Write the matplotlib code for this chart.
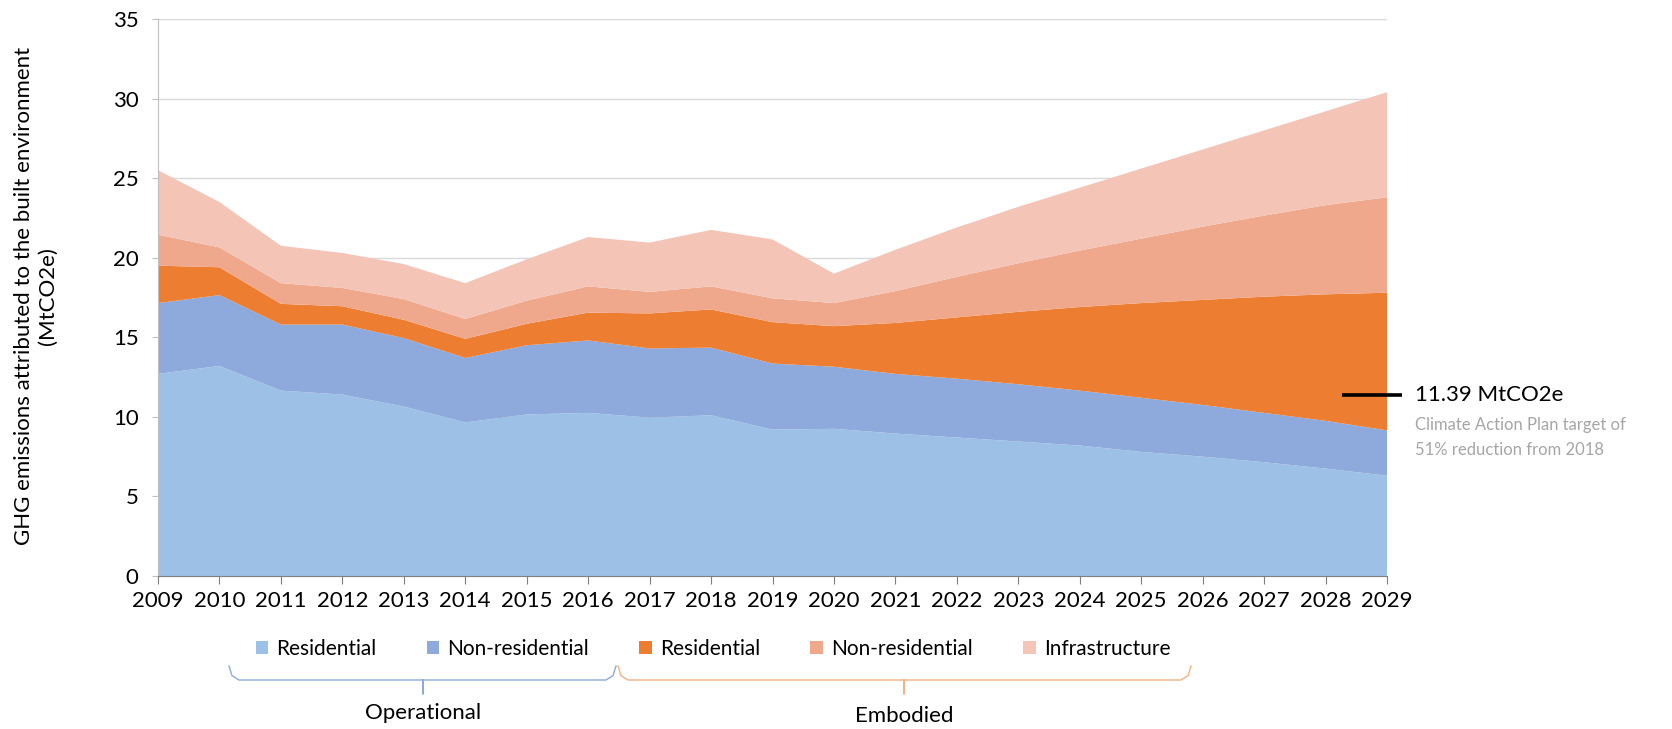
import matplotlib
matplotlib.use("Agg")
import matplotlib.pyplot as plt
from matplotlib.lines import Line2D

plt.rcParams['font.family'] = ['Lato', 'DejaVu Sans']

# 数据
years = list(range(2009, 2030))
op_res = [12.7, 13.2, 11.65, 11.4, 10.65, 9.65, 10.15, 10.25, 9.95, 10.1, 9.2,
          9.25, 8.95, 8.7, 8.45, 8.2, 7.8, 7.5, 7.15, 6.75, 6.3]
op_nonres = [4.45, 4.45, 4.15, 4.4, 4.3, 4.05, 4.35, 4.55, 4.35, 4.25, 4.15,
             3.9, 3.75, 3.7, 3.6, 3.45, 3.4, 3.25, 3.1, 3.0, 2.85]
emb_res = [2.35, 1.75, 1.3, 1.15, 1.15, 1.2, 1.35, 1.75, 2.2, 2.4, 2.6,
           2.55, 3.2, 3.85, 4.55, 5.25, 5.95, 6.6, 7.3, 7.95, 8.65]
emb_nonres = [1.95, 1.25, 1.3, 1.15, 1.3, 1.25, 1.45, 1.65, 1.35, 1.45, 1.5,
              1.45, 2.0, 2.55, 3.05, 3.55, 4.05, 4.6, 5.1, 5.6, 6.0]
infra = [4.05, 2.85, 2.35, 2.2, 2.2, 2.25, 2.6, 3.1, 3.1, 3.55, 3.7,
         1.85, 2.6, 3.1, 3.55, 3.95, 4.4, 4.85, 5.35, 5.9, 6.6]
labels = ['Residential', 'Non-residential', 'Residential', 'Non-residential', 'Infrastructure']
colors = ['#9DC1E6', '#8EA9DB', '#ED7D31', '#F0A88C', '#F4C4B6']
target = 11.39

W, H = 1672, 729
fig = plt.figure(figsize=(W / 100, H / 100), dpi=100)
ax = fig.add_axes([158 / W, 1 - 576 / H, (1387 - 158) / W, (576 - 19) / H])

ax.stackplot(years, op_res, op_nonres, emb_res, emb_nonres, infra,
             colors=colors, labels=labels, zorder=2)

ax.set_xlim(2009, 2029)
ax.set_ylim(0, 35)
ax.set_xticks(years)
ax.set_xticklabels([str(y) for y in years], fontsize=16)
ax.set_yticks(range(0, 36, 5))
ax.tick_params(axis='y', labelsize=16, length=4, color='#BFBFBF', pad=10)
ax.tick_params(axis='x', length=6, color='#7F7F7F', pad=5)
ax.grid(axis='y', color='#D9D9D9', linewidth=1, zorder=0)
ax.set_axisbelow(True)
for s in ['top', 'right']:
    ax.spines[s].set_visible(False)
ax.spines['left'].set_color('#BFBFBF')
ax.spines['bottom'].set_color('#7F7F7F')
fig.text(36 / W, 1 - 296 / H, 'GHG emissions attributed to the built environment\n(MtCO2e)',
         rotation=90, fontsize=16, ha='center', va='center', multialignment='center')

# 目标标注
ax.plot([2028.27, 2029.25], [target, target], color='black', lw=2.6, clip_on=False,
        solid_capstyle='butt', zorder=5)
ax.text(2029.45, target, f'{target} MtCO2e', fontsize=16, va='center', ha='left')
ax.text(2029.45, target - 1.9, 'Climate Action Plan target of',
        fontsize=12, color='#A6A6A6', va='center', ha='left')
ax.text(2029.45, target - 3.5, '51% reduction from 2018',
        fontsize=12, color='#A6A6A6', va='center', ha='left')

# 图例
leg = fig.legend(loc='center', bbox_to_anchor=(713 / W, 1 - 649 / H), ncol=5, frameon=False,
                 fontsize=15, handlelength=0.6, handleheight=0.6, handletextpad=0.4,
                 columnspacing=2.4)


def brace(x0, x1, xm, color):
    yt, yb, yk = 1 - 666 / H, 1 - 680 / H, 1 - 694 / H
    xs = [x0, x0 + 3, x0 + 10, xm - 3, xm, xm, xm, xm + 3, x1 - 10, x1 - 3, x1]
    ys = [yt, yb + 0.006, yb, yb, yb, yk, yb, yb, yb, yb + 0.006, yt]
    fig.add_artist(Line2D([x / W for x in xs], ys, color=color, lw=1, transform=fig.transFigure))


brace(229, 616, 423, '#8EA9DB')
brace(618, 1191, 904, '#F4B183')
fig.text(423 / W, 1 - 713 / H, 'Operational', ha='center', va='center', fontsize=16)
fig.text(904 / W, 1 - 716 / H, 'Embodied', ha='center', va='center', fontsize=16)

fig.savefig('out.png', dpi=100)
